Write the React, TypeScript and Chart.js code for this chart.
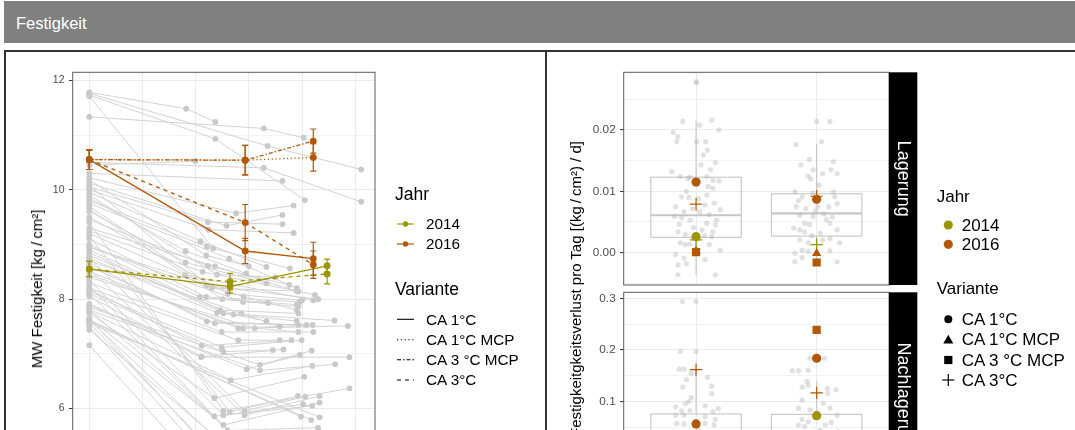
import React, { useEffect, useRef } from "react";
import { Chart, registerables } from "chart.js";

Chart.register(...registerables);

const FONT = '"Liberation Sans", Arial, Helvetica, sans-serif';
const OLIVE = "#9C9400";
const BROWN = "#B35806";
const GRID = "#EBEBEB";
const PANEL_BORDER = "#5c5c5c";
const TICK_TEXT = "#4D4D4D";
const GREY_LINE = "#d3d3d3";
const GREY_POINT = "#c9c9c9";

// ---------------- left panel: individual courses ----------------
const greyStartValue = [
  11.78, 11.76, 11.73, 11.33, 11.71, 10.5, 10.45, 10.3, 10.22, 10.12,
  10.05, 10.0, 9.95, 9.85, 9.8, 9.75, 9.6, 9.45, 9.3, 9.25,
  9.2, 9.1, 9.0, 8.95, 8.9, 8.85, 8.8, 8.7, 8.65, 8.6,
  8.5, 8.45, 8.4, 8.3, 8.2, 8.18, 8.14, 8.1, 8.05, 7.92,
  7.89, 7.85, 7.8, 7.77, 7.74, 9.4, 9.15, 8.75, 8.55, 8.35,
  8.25, 7.65, 7.62, 7.6, 7.56, 7.65, 7.56, 7.5, 7.44, 7.16,
  7.62, 7.8, 8.1, 9.65, 9.5, 9.9, 10.08, 9.7, 10.18, 8.95,
  8.75,
];
const greyMonth1 = [
  1.82, 3.35, 2.37, 3.28, 2.33, 3.28, 1.99, 3.63, 2.76, 2.58,
  2.23, 2.24, 2.09, 1.81, 2.21, 2.63, 1.81, 2.23, 2.36, 2.13,
  1.8, 2.2, 2.08, 2.89, 2.46, 2.52, 2.71, 2.86, 2.21, 2.36,
  2.8, 2.89, 3.11, 2.49, 2.8, 2.11, 2.49, 2.52, 2.11, 2.1,
  2.96, 3.21, 3.21, 2.66, 2.35, 2.52, 2.64, 2.92, 2.92, 2.52,
  2.35, 2.52, 3.98, 4.17, 4.33, 2.3, 2.5, 2.4, 2.6, 2.2,
  2.45, 2.7, 2.6, 2.5, 2.6, 2.4, 2.3, 2.2, 2.2, 2.9,
  2.4,
];
const greyValue1 = [
  11.48, 10.8, 10.93, 11.12, 8.93, 10.4, 10.52, 10.16, 9.57, 9.34,
  9.41, 9.27, 9.06, 8.88, 8.96, 8.74, 8.67, 8.61, 8.6, 8.5,
  8.44, 8.04, 8.04, 7.95, 7.8, 7.74, 7.72, 7.74, 7.59, 7.56,
  7.47, 7.47, 7.47, 7.4, 7.25, 7.15, 7.12, 7.04, 6.95, 6.94,
  6.72, 6.8, 6.7, 6.52, 6.19, 5.96, 5.94, 5.96, 5.88, 5.88,
  5.86, 5.7, 5.85, 5.79, 5.84, 5.2, 5.05, 4.9, 5.3, 4.8,
  5.4, 5.55, 5.6, 8.0, 8.1, 8.45, 8.2, 8.25, 8.8, 8.05,
  7.75,
];
const greyMonth2 = [
  2.37, 5.11, 4.05, 4.03, null, 5.11, null, null, 3.84, 3.63,
  3.63, 3.84, 3.33, 2.95, 3.77, 3.9, 3.33, 3.76, 3.93, 4.24,
  4.21, 3.96, 3.93, 3.36, 3.93, 4.61, 3.33, 3.58, 3.93, 4.08,
  4.2, 4.86, 3.93, 4.21, 3.58, 3.8, 3.99, 3.45, 3.65, 4.89,
  3.96, 4.18, 4.62, 4.19, 4.04, 4.89, 3.92, 4.06, 4.33, 4.02,
  4.19, 4.33, null, null, null, null, null, null, null, null,
  4.2, null, 4.3, 3.9, 4.0, 3.5, 3.9, 4.3, 3.0, 3.9,
  3.9,
];
const greyValue2 = [
  11.24, 10.37, 9.81, 10.95, null, 9.78, null, null, 9.71, 9.54,
  9.37, 9.21, 8.59, 8.47, 8.56, 8.2, 8.29, 8.26, 8.14, 8.08,
  7.98, 7.95, 7.86, 7.93, 7.74, 7.61, 7.6, 7.5, 7.53, 7.53,
  7.53, 7.51, 7.4, 7.4, 7.25, 7.25, 7.25, 7.07, 7.08, 6.94,
  6.98, 7.06, 6.81, 6.78, 6.58, 6.37, 6.23, 6.22, 6.23, 6.08,
  6.05, 6.11, null, null, null, null, null, null, null, null,
  5.5, null, 5.65, 7.9, 7.98, 8.4, 8.15, 8.0, 8.6, 7.8,
  7.6,
];

// ---------------- left panel: group means ± error ----------------
const meanMonths2016 = [0, 2.93, 4.21];
const meanMonths2014 = [0, 2.645, 4.47];
const mean2016CA1 = [10.55, 8.88, 8.74];
const err2016CA1 = [0.18, 0.23, 0.3];
const mean2016CA1MCP = [10.55, 10.54, 10.59];
const err2016CA1MCP = [0.18, 0.27, 0.25];
const mean2016CA3MCP = [10.55, 10.54, 10.89];
const err2016CA3MCP = [0.18, 0.27, 0.22];
const mean2016CA3 = [10.55, 9.4, 8.63];
const err2016CA3 = [0.18, 0.33, 0.25];
const mean2014CA1 = [8.55, 8.23, 8.61];
const err2014CA1 = [0.14, 0.12, 0.12];
const mean2014CA3 = [8.55, 8.32, 8.46];
const err2014CA3 = [0.14, 0.15, 0.18];

const yearNames = ["2014", "2016"];
const variantNames = ["CA 1°C", "CA 1°C MCP", "CA 3 °C MCP", "CA 3°C"];

const leftMonthGrid = [0, 1, 2, 3, 4, 5];
const leftTickValues = [5, 6, 7, 8, 9, 10, 11, 12];
const leftTickLabels = ["", "6", "", "8", "", "10", "", "12"];

// ---------------- right panel: loss per day ----------------
const boxGroups = ["A", "B"];

const lagQ1 = [0.0025, 0.0027];
const lagMedian = [0.0061, 0.0064];
const lagQ3 = [0.0123, 0.0096];
const lagLow = [-0.0036, -0.0018];
const lagHigh = [0.0216, 0.0177];

const nachQ1 = [0.012, 0.015];
const nachMedian = [0.035, 0.04];
const nachQ3 = [0.0762, 0.0755];
const nachLow = [-0.03, -0.02];
const nachHigh = [0.163, 0.14];

const lagJitterOffsetA = [
  0, 0.005, -0.11, 0.13, -0.19, -0.15, -0.16, 0.03, 0.19, 0.005,
  0.08, 0.094, 0.06, 0.16, 0.04, -0.2, 0.12, -0.13, -0.05, 0.09,
  0.14, 0.19, 0.14, -0.12, -0.06, 0.09, -0.17, 0.075, -0.1, 0.03,
  0.2, -0.18, -0.12, -0.05, 0.09, 0.16, 0.17, -0.15, -0.09, 0.05,
  0.14, 0.13, -0.13, -0.09, -0.05, 0.11, 0.2, -0.17, -0.1, 0.075,
  -0.15, -0.08, -0.15, 0.16, -0.08, 0.02, -0.03, 0.11, -0.14, 0.07,
  -0.02, 0.1, -0.07, 0.15,
];
const lagJitterValueA = [
  0.0279, 0.0277, 0.0214, 0.0216, 0.0196, 0.0189, 0.0181, 0.0208, 0.02, 0.0181,
  0.0181, 0.0167, 0.0159, 0.0147, 0.0143, 0.0132, 0.0135, 0.0124, 0.0123, 0.0124,
  0.0118, 0.0117, 0.0105, 0.0091, 0.009, 0.0094, 0.0075, 0.0078, 0.0067, 0.0067,
  0.007, 0.0059, 0.0057, 0.0053, 0.0048, 0.0045, 0.0053, 0.0034, 0.003, 0.0037,
  0.0034, 0.0026, 0.0016, 0.0013, 0.0014, 0.0013, 0.0004, -0.0003, -0.0009, -0.0011,
  -0.002, -0.0018, -0.0036, -0.0036, 0.01, 0.0088, 0.0072, 0.0062, 0.0046, 0.0028,
  0.0041, 0.0108, 0.0121, 0.0081,
];
const lagJitterOffsetB = [
  0, 0.11, -0.17, 0.04, -0.06, -0.13, -0.03, 0.14, -0.07, -0.05,
  0.05, 0.12, 0.17, -0.18, -0.12, -0.03, 0.14, 0.15, -0.17, -0.09,
  0.01, 0.1, 0.17, -0.14, -0.03, 0.06, -0.1, -0.06, 0.11, -0.19,
  -0.14, -0.1, 0.03, 0.17, -0.14, -0.07, 0.05, 0.19, -0.18, -0.12,
  -0.07, 0.11, -0.18, -0.12, 0.17, 0.11, -0.01, 0.08, -0.15, 0.02,
  0.13, -0.04,
];
const lagJitterValueB = [
  0.0214, 0.0214, 0.0176, 0.0181, 0.0152, 0.0143, 0.0135, 0.0148, 0.0125, 0.012,
  0.0129, 0.0135, 0.0129, 0.0099, 0.0091, 0.0097, 0.0099, 0.0091, 0.0075, 0.0072,
  0.0075, 0.0075, 0.008, 0.0061, 0.0059, 0.0063, 0.0048, 0.0046, 0.0048, 0.004,
  0.0037, 0.0034, 0.0032, 0.0037, 0.0021, 0.0016, 0.0021, 0.0016, -0.0001, 0.0004,
  0.0002, 0.0003, -0.0015, -0.0008, -0.0015, 0.0023, 0.0068, 0.0054, 0.0085, 0.011,
  0.0058, 0.0028,
];
const nachJitterOffsetA = [
  -0.113, 0, -0.13, 0, -0.14, -0.1, -0.04, -0.08, 0.094, -0.11,
  0.13, 0.13, -0.04, -0.06, -0.09, 0.075, -0.17, -0.12, 0.185, -0.05,
  0.14, -0.17, -0.1, 0.075, 0.16, -0.16, -0.1, 0.075, 0.15, 0.02,
  -0.07, 0.12, -0.15, 0.05, -0.02, 0.1, -0.12, 0.17, -0.18,
];
const nachJitterValueA = [
  0.294, 0.294, 0.197, 0.197, 0.163, 0.163, 0.155, 0.143, 0.147, 0.128,
  0.13, 0.116, 0.108, 0.1, 0.096, 0.092, 0.09, 0.082, 0.087, 0.083,
  0.081, 0.074, 0.074, 0.071, 0.066, 0.058, 0.057, 0.058, 0.055, 0.045,
  0.038, 0.03, 0.022, 0.015, 0.008, 0.002, -0.01, 0.04, 0.033,
];
const nachJitterOffsetB = [
  -0.2, -0.15, -0.07, -0.055, 0.064, -0.08, -0.12, -0.07, 0.09, 0.16,
  0.09, -0.12, 0.055, 0.11, -0.15, -0.055, 0.17, -0.12, -0.07, -0.15,
  0.07, 0.12, -0.1, 0.03, -0.04, 0.14, -0.17, 0.08, -0.09, 0.18,
];
const nachJitterValueB = [
  0.16, 0.16, 0.161, 0.184, 0.184, 0.139, 0.128, 0.132, 0.126, 0.123,
  0.116, 0.103, 0.097, 0.088, 0.087, 0.084, 0.074, 0.066, 0.061, 0.055,
  0.055, 0.06, 0.052, 0.045, 0.036, 0.028, 0.02, 0.012, 0.005, 0.042,
];

// group means per Jahr x Variante (box A, box B)
const lag2016CA1 = [0.0115, 0.0087];
const lag2016CA1MCP = [0.0003, -0.0001];
const lag2016CA3MCP = [0.0001, -0.0016];
const lag2016CA3 = [0.0079, 0.0092];
const lag2014CA1 = [0.0026, null];
const lag2014CA3 = [0.0021, 0.0013];

const nach2016CA1 = [0.057, 0.184];
const nach2016CA3MCP = [null, 0.239];
const nach2016CA3 = [0.162, 0.117];
const nach2014CA1 = [null, 0.073];

const lagTickValues = [-0.005, 0, 0.005, 0.01, 0.015, 0.02, 0.025];
const lagTickLabels = ["", "0.00", "", "0.01", "", "0.02", ""];
const nachTickValues = [-0.05, 0, 0.05, 0.1, 0.15, 0.2, 0.25, 0.3];
const nachTickLabels = ["", "0.0", "", "0.1", "", "0.2", "", "0.3"];

const variantDash = [[], [1.2, 2.6], [4, 2, 1.5, 2], [4, 4]];
const variantShape = ["circle", "triangle", "rect", "cross"];
const variantRadius = [4.6, 5.4, 5.8, 6.2];
const yearColor = [OLIVE, BROWN];

// ================= left chart =================
function LeftChart() {
  const ref = useRef<HTMLCanvasElement>(null);
  useEffect(() => {
    const meanSeries = [
      { months: meanMonths2016, values: mean2016CA1, err: err2016CA1, year: 1, variant: 0 },
      { months: meanMonths2016, values: mean2016CA1MCP, err: err2016CA1MCP, year: 1, variant: 1 },
      { months: meanMonths2016, values: mean2016CA3MCP, err: err2016CA3MCP, year: 1, variant: 2 },
      { months: meanMonths2016, values: mean2016CA3, err: err2016CA3, year: 1, variant: 3 },
      { months: meanMonths2014, values: mean2014CA1, err: err2014CA1, year: 0, variant: 0 },
      { months: meanMonths2014, values: mean2014CA3, err: err2014CA3, year: 0, variant: 3 },
    ];
    const datasets: any[] = [];
    greyStartValue.forEach((s, i) => {
      const pts: any[] = [
        { x: 0, y: s },
        { x: greyMonth1[i], y: greyValue1[i] },
      ];
      if (greyMonth2[i] != null) pts.push({ x: greyMonth2[i], y: greyValue2[i] });
      datasets.push({
        data: pts,
        showLine: true,
        borderColor: GREY_LINE,
        borderWidth: 1,
        pointRadius: 2.9,
        pointBackgroundColor: GREY_POINT,
        pointBorderWidth: 0,
        order: 10,
      });
    });
    meanSeries.forEach((m, k) => {
      datasets.push({
        data: m.values.map((v, i) => ({ x: m.months[i], y: v })),
        showLine: true,
        borderColor: yearColor[m.year],
        borderWidth: 1.3,
        borderDash: variantDash[m.variant],
        pointRadius: 3.4,
        pointBackgroundColor: yearColor[m.year],
        pointBorderWidth: 0,
        order: 6 - k,
      });
    });
    const errorBars = {
      id: "errorBars",
      afterDatasetsDraw(chart: any) {
        const { ctx, scales } = chart;
        ctx.save();
        ctx.lineWidth = 1.2;
        meanSeries.forEach((m) => {
          ctx.strokeStyle = yearColor[m.year];
          m.values.forEach((v, i) => {
            const px = scales.x.getPixelForValue(m.months[i]);
            const t = scales.y.getPixelForValue(v + m.err[i]);
            const b = scales.y.getPixelForValue(v - m.err[i]);
            ctx.beginPath();
            ctx.moveTo(px, t);
            ctx.lineTo(px, b);
            ctx.moveTo(px - 3, t);
            ctx.lineTo(px + 3, t);
            ctx.moveTo(px - 3, b);
            ctx.lineTo(px + 3, b);
            ctx.stroke();
          });
        });
        ctx.restore();
      },
      afterDraw(chart: any) {
        const { ctx, chartArea } = chart;
        ctx.save();
        ctx.strokeStyle = PANEL_BORDER;
        ctx.lineWidth = 1;
        ctx.strokeRect(chartArea.left, chartArea.top, chartArea.right - chartArea.left, chartArea.bottom - chartArea.top);
        ctx.restore();
      },
    };
    const chart = new Chart(ref.current as HTMLCanvasElement, {
      type: "scatter",
      data: { datasets },
      plugins: [errorBars],
      options: {
        responsive: false,
        animation: false,
        devicePixelRatio: 1,
        events: [],
        layout: { padding: { left: 0, top: 20.3, right: 169, bottom: 26 } },
        plugins: { legend: { display: false }, tooltip: { enabled: false } },
        scales: {
          x: {
            type: "linear",
            min: -0.312,
            max: 5.37,
            afterBuildTicks: (s: any) => {
              s.ticks = leftMonthGrid.map((v) => ({ value: v }));
            },
            afterFit: (s: any) => {
              s.height = 0;
            },
            ticks: { display: false, autoSkip: false },
            grid: { color: GRID, lineWidth: 1.1, drawTicks: false },
            border: { display: false },
          },
          y: {
            type: "linear",
            min: 4.22,
            max: 12.146,
            afterBuildTicks: (s: any) => {
              s.ticks = leftTickValues.map((v) => ({ value: v }));
            },
            afterFit: (s: any) => {
              s.width = 66.7;
            },
            ticks: {
              autoSkip: false,
              padding: 4.5,
              color: TICK_TEXT,
              font: { family: FONT, size: 10.5 },
              callback: (_v: any, i: number) => leftTickLabels[i],
            },
            grid: {
              color: GRID,
              lineWidth: (c: any) => (leftTickLabels[c.index] ? 1.1 : 0.6),
              tickLength: 3.7,
              tickWidth: 1,
              tickColor: (c: any) => (leftTickLabels[c.index] ? "#333333" : "rgba(0,0,0,0)"),
            },
            border: { display: false },
          },
        },
      } as any,
    });
    return () => chart.destroy();
  }, []);
  return (
    <canvas
      ref={ref}
      width={538}
      height={480}
      style={{ position: "absolute", left: 6, top: 52, width: 538, height: 480 }}
    />
  );
}

// ================= right facet chart =================
function FacetChart(props: any) {
  const ref = useRef<HTMLCanvasElement>(null);
  useEffect(() => {
    const p = props;
    const datasets: any[] = [];
    [0, 1].forEach((g) => {
      const offs = g === 0 ? p.jitterOffsetA : p.jitterOffsetB;
      const vals = g === 0 ? p.jitterValueA : p.jitterValueB;
      datasets.push({
        data: vals.map((v: number, i: number) => ({ x: g + 1 + offs[i], y: v })),
        pointRadius: 2.6,
        pointBackgroundColor: "rgba(175,175,175,0.38)",
        pointBorderWidth: 0,
        order: 100,
      });
    });
    p.markers.forEach((m: any, k: number) => {
      const pts: any[] = [];
      m.values.forEach((v: any, i: number) => {
        if (v != null) pts.push({ x: i + 1, y: v });
      });
      const isCross = variantShape[m.variant] === "cross";
      datasets.push({
        data: pts,
        pointStyle: variantShape[m.variant],
        pointRadius: variantRadius[m.variant],
        pointBackgroundColor: yearColor[m.year],
        pointBorderColor: yearColor[m.year],
        pointBorderWidth: isCross ? 1.2 : 0,
        order: p.markers.length - k,
      });
    });
    const facetPlugin = {
      id: "facet",
      beforeDatasetsDraw(chart: any) {
        const { ctx, scales, chartArea } = chart;
        ctx.save();
        ctx.beginPath();
        ctx.rect(chartArea.left, chartArea.top, chartArea.right - chartArea.left, chartArea.bottom - chartArea.top);
        ctx.clip();
        ctx.strokeStyle = "#c6c6c6";
        p.q1.forEach((q1: number, i: number) => {
          const cx = scales.x.getPixelForValue(i + 1);
          const hw = scales.x.getPixelForValue(i + 1 + 0.375) - cx;
          const yq1 = scales.y.getPixelForValue(q1);
          const yq3 = scales.y.getPixelForValue(p.q3[i]);
          const ymed = scales.y.getPixelForValue(p.median[i]);
          const ylo = scales.y.getPixelForValue(p.low[i]);
          const yhi = scales.y.getPixelForValue(p.high[i]);
          ctx.lineWidth = 1.1;
          ctx.beginPath();
          ctx.moveTo(cx, yhi);
          ctx.lineTo(cx, yq3);
          ctx.moveTo(cx, yq1);
          ctx.lineTo(cx, ylo);
          ctx.stroke();
          ctx.strokeRect(cx - hw, yq3, 2 * hw, yq1 - yq3);
          ctx.lineWidth = 2.2;
          ctx.beginPath();
          ctx.moveTo(cx - hw, ymed);
          ctx.lineTo(cx + hw, ymed);
          ctx.stroke();
        });
        ctx.restore();
      },
      afterDraw(chart: any) {
        const { ctx, chartArea } = chart;
        const h = chartArea.bottom - chartArea.top;
        ctx.save();
        ctx.strokeStyle = PANEL_BORDER;
        ctx.lineWidth = 1;
        ctx.strokeRect(chartArea.left, chartArea.top, chartArea.right - chartArea.left, h);
        ctx.fillStyle = "#000000";
        ctx.fillRect(chartArea.right, chartArea.top, 28.3, h);
        ctx.translate(chartArea.right + 14.6, chartArea.top + h / 2);
        ctx.rotate(Math.PI / 2);
        ctx.fillStyle = "#ffffff";
        ctx.font = `18px ${FONT}`;
        ctx.textAlign = "center";
        ctx.textBaseline = "middle";
        ctx.fillText(p.strip, 0, 1);
        ctx.restore();
      },
    };
    const chart = new Chart(ref.current as HTMLCanvasElement, {
      type: "scatter",
      data: { datasets },
      plugins: [facetPlugin],
      options: {
        responsive: false,
        animation: false,
        devicePixelRatio: 1,
        events: [],
        layout: { padding: { left: 0, top: p.padTop, right: 186, bottom: p.padBottom } },
        plugins: { legend: { display: false }, tooltip: { enabled: false } },
        scales: {
          x: {
            type: "linear",
            min: 0.4,
            max: 2.6,
            afterBuildTicks: (s: any) => {
              s.ticks = boxGroups.map((_g, i) => ({ value: i + 1 }));
            },
            afterFit: (s: any) => {
              s.height = 0;
            },
            ticks: { display: false, autoSkip: false },
            grid: { color: GRID, lineWidth: 1.1, drawTicks: false },
            border: { display: false },
          },
          y: {
            type: "linear",
            min: p.yMin,
            max: p.yMax,
            afterBuildTicks: (s: any) => {
              s.ticks = p.tickValues.map((v: number) => ({ value: v }));
            },
            afterFit: (s: any) => {
              s.width = 76.7;
            },
            ticks: {
              autoSkip: false,
              padding: 4.3,
              color: TICK_TEXT,
              font: { family: FONT, size: 11.8 },
              callback: (_v: any, i: number) => p.tickLabels[i],
            },
            grid: {
              color: GRID,
              lineWidth: (c: any) => (p.tickLabels[c.index] ? 1.1 : 0.6),
              tickLength: 3.7,
              tickWidth: 1,
              tickColor: (c: any) => (p.tickLabels[c.index] ? "#333333" : "rgba(0,0,0,0)"),
            },
            border: { display: false },
          },
        },
      } as any,
    });
    return () => chart.destroy();
  }, []);
  return (
    <canvas
      ref={ref}
      width={528}
      height={props.height}
      style={{ position: "absolute", left: 547, top: props.top, width: 528, height: props.height }}
    />
  );
}

function Txt(props: any) {
  const { x, cy, size, color, children } = props;
  return (
    <div
      style={{
        position: "absolute",
        left: x,
        top: cy - size / 2,
        fontSize: size,
        lineHeight: `${size}px`,
        whiteSpace: "nowrap",
        color: color || "#000",
      }}
    >
      {children}
    </div>
  );
}

function VText(props: any) {
  const { cx, cy, size, children } = props;
  return (
    <div
      style={{
        position: "absolute",
        left: cx,
        top: cy,
        fontSize: size,
        lineHeight: "18px",
        whiteSpace: "nowrap",
        writingMode: "vertical-rl",
        transform: "translate(-50%, -50%) rotate(180deg)",
        color: "#000",
      }}
    >
      {children}
    </div>
  );
}

export default function App() {
  const lagMarkers = [
    { values: lag2016CA3, year: 1, variant: 3 },
    { values: lag2014CA3, year: 0, variant: 3 },
    { values: lag2016CA1, year: 1, variant: 0 },
    { values: lag2014CA1, year: 0, variant: 0 },
    { values: lag2016CA1MCP, year: 1, variant: 1 },
    { values: lag2016CA3MCP, year: 1, variant: 2 },
  ];
  const nachMarkers = [
    { values: nach2016CA3, year: 1, variant: 3 },
    { values: nach2016CA1, year: 1, variant: 0 },
    { values: nach2014CA1, year: 0, variant: 0 },
    { values: nach2016CA3MCP, year: 1, variant: 2 },
  ];
  const leftLegendVariantY = [319.3, 339.7, 359.7, 380];
  const rightLegendVariantY = [319.3, 339.7, 360, 380];
  return (
    <div
      style={{
        position: "fixed",
        left: 0,
        top: 0,
        width: 1075,
        height: 430,
        overflow: "hidden",
        background: "#ffffff",
        fontFamily: FONT,
      }}
    >
      <div style={{ position: "absolute", left: 4, top: 1, width: 1080, height: 42, background: "#808080" }} />
      <div
        style={{
          position: "absolute",
          left: 16,
          top: 15.3,
          fontSize: 16.5,
          lineHeight: "16.5px",
          color: "#ffffff",
        }}
      >
        Festigkeit
      </div>
      <div
        style={{
          position: "absolute",
          left: 4,
          top: 50,
          width: 543,
          height: 480,
          border: "2px solid #333333",
          boxSizing: "border-box",
        }}
      />
      <div
        style={{
          position: "absolute",
          left: 545,
          top: 50,
          width: 540,
          height: 480,
          border: "2px solid #333333",
          boxSizing: "border-box",
        }}
      />
      <LeftChart />
      <FacetChart
        top={52}
        height={260}
        padTop={20.3}
        padBottom={27}
        yMin={-0.00527}
        yMax={0.0294}
        tickValues={lagTickValues}
        tickLabels={lagTickLabels}
        q1={lagQ1}
        median={lagMedian}
        q3={lagQ3}
        low={lagLow}
        high={lagHigh}
        jitterOffsetA={lagJitterOffsetA}
        jitterValueA={lagJitterValueA}
        jitterOffsetB={lagJitterOffsetB}
        jitterValueB={lagJitterValueB}
        markers={lagMarkers}
        strip="Lagerung"
      />
      <FacetChart
        top={280}
        height={250}
        padTop={12.3}
        padBottom={25}
        yMin={-0.0998}
        yMax={0.3116}
        tickValues={nachTickValues}
        tickLabels={nachTickLabels}
        q1={nachQ1}
        median={nachMedian}
        q3={nachQ3}
        low={nachLow}
        high={nachHigh}
        jitterOffsetA={nachJitterOffsetA}
        jitterValueA={nachJitterValueA}
        jitterOffsetB={nachJitterOffsetB}
        jitterValueB={nachJitterValueB}
        markers={nachMarkers}
        strip="Nachlagerung"
      />

      <VText cx={36.7} cy={289} size={15}>
        MW Festigkeit [kg{"\u2009"}/{"\u2009"}cm²]
      </VText>
      <VText cx={576} cy={288.6} size={15}>
        Festigkeitgkeitsverlust pro Tag [(kg{"\u2009"}/{"\u2009"}cm²) / d]
      </VText>

      <svg
        width={1075}
        height={430}
        style={{ position: "absolute", left: 0, top: 0, pointerEvents: "none" }}
      >
        {yearNames.map((_n, i) => (
          <g key={"lj" + i}>
            <line x1={397} x2={414} y1={224 + i * 20} y2={224 + i * 20} stroke={yearColor[i]} strokeWidth={1.2} />
            <circle cx={405.5} cy={224 + i * 20} r={2.7} fill={yearColor[i]} />
          </g>
        ))}
        {variantNames.map((_n, i) => (
          <line
            key={"lv" + i}
            x1={397}
            x2={414}
            y1={leftLegendVariantY[i]}
            y2={leftLegendVariantY[i]}
            stroke="#000"
            strokeWidth={1.1}
            strokeDasharray={variantDash[i].length ? variantDash[i].join(" ") : undefined}
          />
        ))}
        <circle cx={948.3} cy={225} r={4.6} fill={OLIVE} />
        <circle cx={948.3} cy={244.3} r={4.6} fill={BROWN} />
        <circle cx={948.3} cy={rightLegendVariantY[0]} r={4} fill="#000" />
        <polygon
          points={`948.3,${rightLegendVariantY[1] - 5} 953.3,${rightLegendVariantY[1] + 3.7} 943.3,${rightLegendVariantY[1] + 3.7}`}
          fill="#000"
        />
        <rect x={944.2} y={rightLegendVariantY[2] - 4.1} width={8.2} height={8.2} fill="#000" />
        <line x1={942.3} x2={954.3} y1={rightLegendVariantY[3]} y2={rightLegendVariantY[3]} stroke="#000" strokeWidth={1.2} />
        <line x1={948.3} x2={948.3} y1={rightLegendVariantY[3] - 6} y2={rightLegendVariantY[3] + 6} stroke="#000" strokeWidth={1.2} />
      </svg>

      <Txt x={395} cy={195} size={17.5}>Jahr</Txt>
      {yearNames.map((n, i) => (
        <Txt key={"ly" + i} x={426} cy={224 + i * 20} size={15.3}>{n}</Txt>
      ))}
      <Txt x={395} cy={290} size={17.5}>Variante</Txt>
      {variantNames.map((n, i) => (
        <Txt key={"lvt" + i} x={426} cy={leftLegendVariantY[i]} size={15.3}>{n}</Txt>
      ))}

      <Txt x={936.7} cy={196.7} size={17}>Jahr</Txt>
      <Txt x={961.7} cy={225} size={17}>{yearNames[0]}</Txt>
      <Txt x={961.7} cy={244.3} size={17}>{yearNames[1]}</Txt>
      <Txt x={936.7} cy={288.3} size={17}>Variante</Txt>
      {variantNames.map((n, i) => (
        <Txt key={"rvt" + i} x={961.7} cy={rightLegendVariantY[i]} size={17}>{n}</Txt>
      ))}
    </div>
  );
}
